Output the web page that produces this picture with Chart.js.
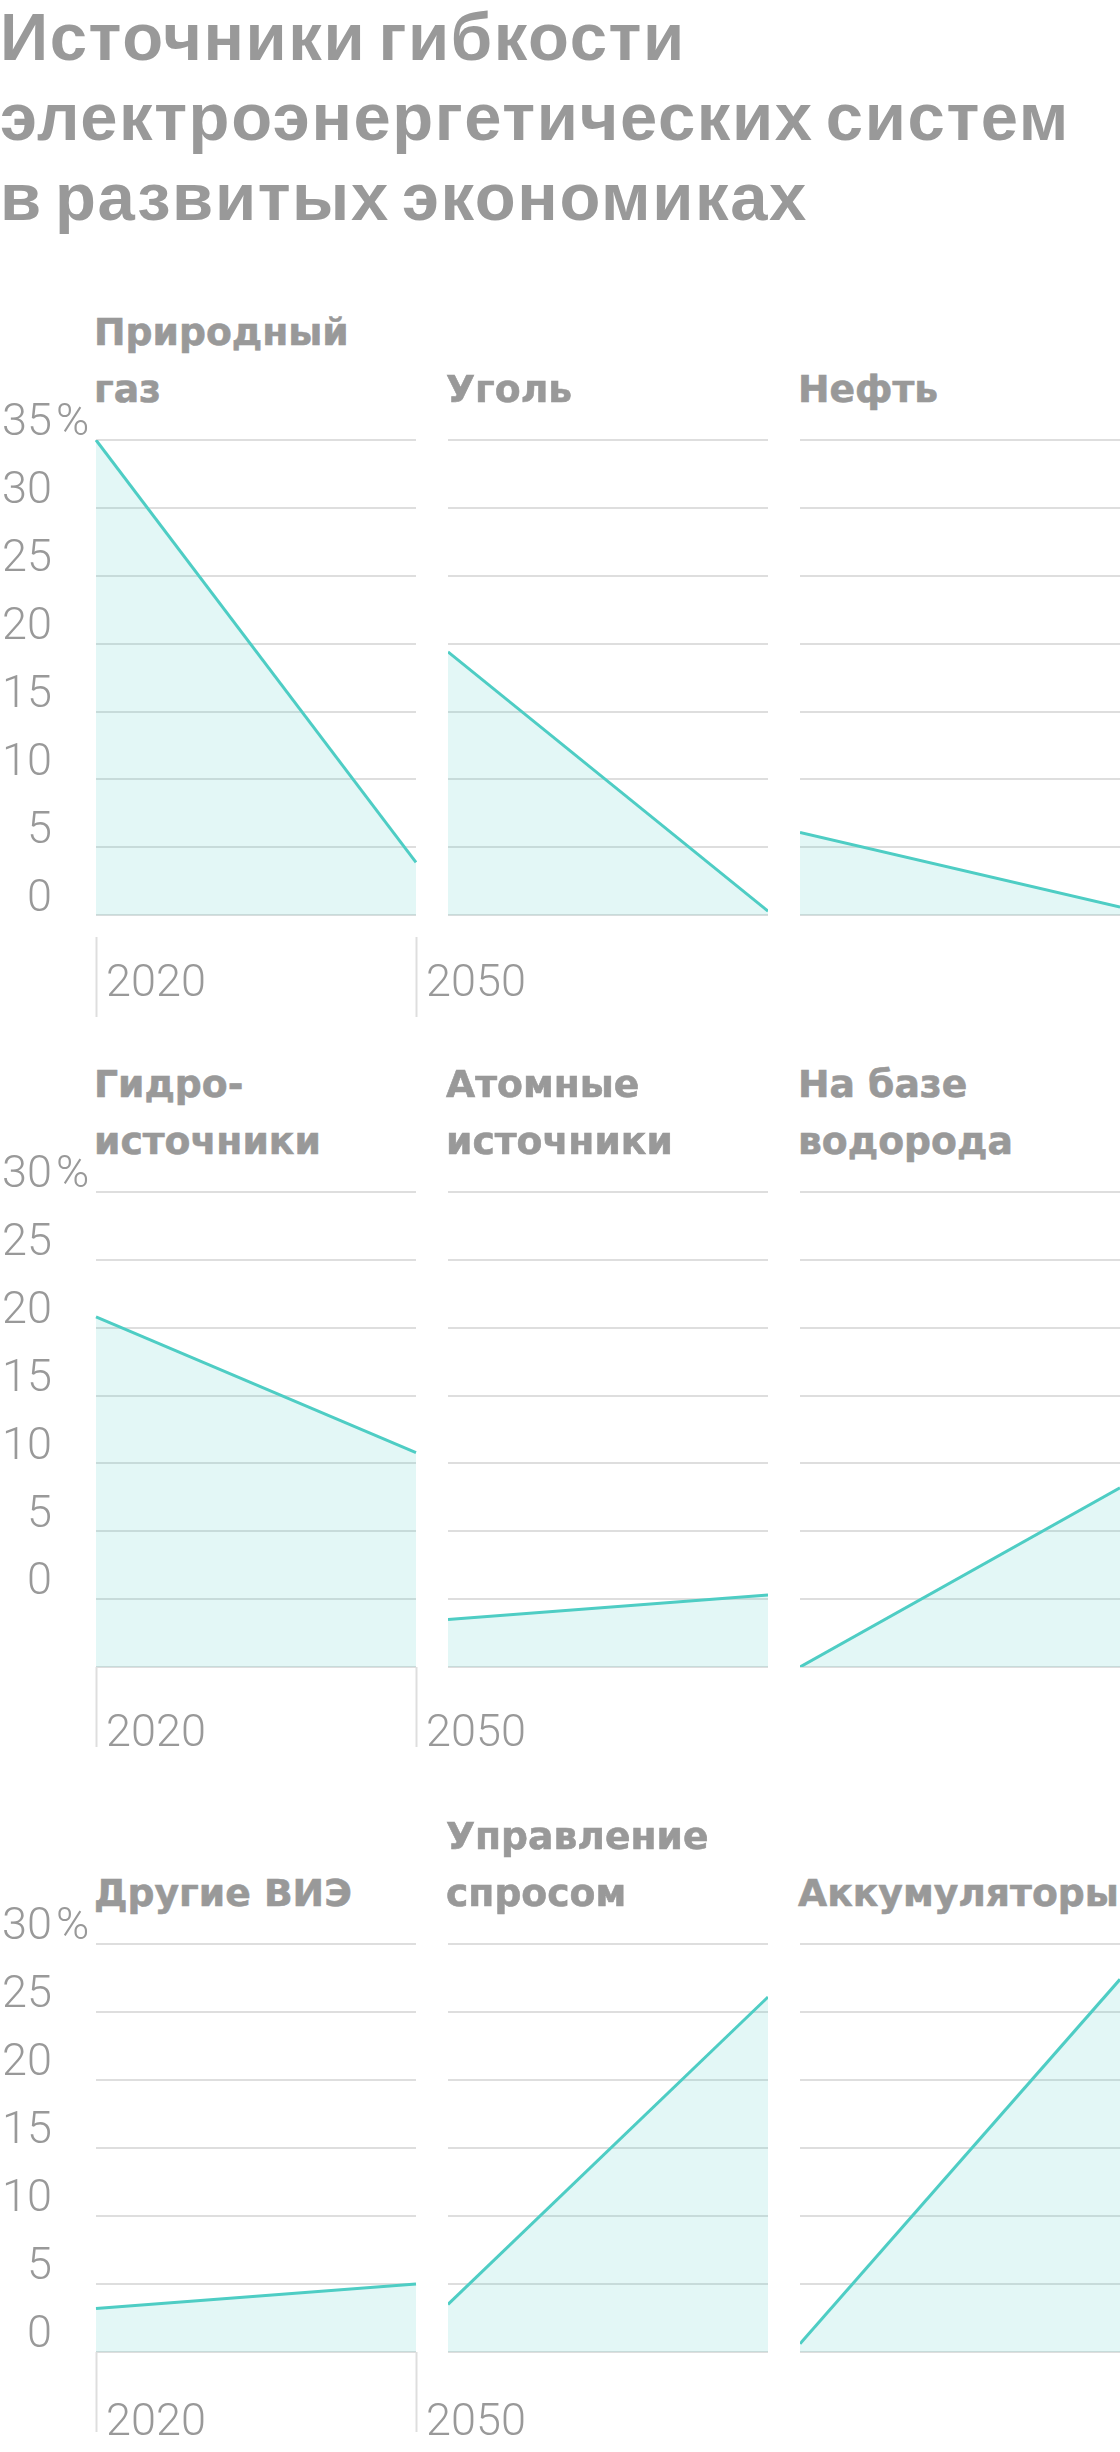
<!DOCTYPE html>
<html lang="ru">
<head>
<meta charset="utf-8">
<script src="https://cdn.jsdelivr.net/npm/chart.js@4.4.1/dist/chart.umd.min.js"></script>
<style>
  html, body { margin: 0; padding: 0; background: #fff; }
  #page { position: relative; width: 1120px; height: 2452px; overflow: hidden; }
  h1 {
    position: absolute; left: 0; top: -3px; margin: 0;
    font: bold 67px 'Liberation Sans', Arial, sans-serif;
    letter-spacing: 1.6px; word-spacing: -8px;
    line-height: 80px; color: #999;
  }
  .ttl {
    position: absolute; height: 114px; display: flex; align-items: flex-end;
    font: bold 37.7px 'DejaVu Sans', sans-serif; line-height: 57px;
    -webkit-text-stroke: 0.6px #999;
    color: #999; white-space: pre-line;
  }
  canvas { position: absolute; }
</style>
</head>
<body>
<div id="page">
  <h1>Источники гибкости<br>электроэнергетических систем<br>в развитых экономиках</h1>
</div>
<script>
// ---- data ----
const years = ['2020', '2050'];
const titles = [
  'Природный\nгаз', 'Уголь', 'Нефть',
  'Гидро-\nисточники', 'Атомные\nисточники', 'На базе\nводорода',
  'Другие ВИЭ', 'Управление\nспросом', 'Аккумуляторы'
];
const values2020 = [35, 19.4, 6.1, 20.8, -1.5, -5, 3.2, 3.5, 0.6];
const values2050 = [3.9, 0.3, 0.6, 10.8, 0.3, 8.2, 5.0, 26.1, 27.4];
const row1Ticks = [0, 5, 10, 15, 20, 25, 30, 35];
const row2Ticks = [-5, 0, 5, 10, 15, 20, 25, 30];
const row3Ticks = [0, 5, 10, 15, 20, 25, 30];

// ---- layout ----
const colLeft = [96, 448, 800];
const plotW = 320;
const rows = [
  { top: 440, bottom: 937, min: -1.6, max: 35, base: 0, ticks: row1Ticks, titleBottom: 418, labelPad: -59 },
  { top: 1192, bottom: 1667, min: -5, max: 30, base: -5, ticks: row2Ticks, titleBottom: 1170, labelPad: -39 },
  { top: 1944, bottom: 2352, min: 0, max: 30, base: 0, ticks: row3Ticks, titleBottom: 1922, labelPad: -35 }
];

const GRAY = '#999';
const GRID = '#dedede';
const LINE = '#4ecdc4';
const FILL = 'rgba(78, 205, 196, 0.16)';
const axisFont = { family: 'Roboto, Lato, sans-serif', size: 45, weight: '300' };
const yLabelPad = 44;

// "%" sign next to the top tick of the first column
const percentSign = {
  id: 'percentSign',
  afterDraw(chart, args, opts) {
    if (!opts.show) return;
    const y = chart.scales.y;
    const top = y.ticks[y.ticks.length - 1].value;
    const ctx = chart.ctx;
    ctx.save();
    ctx.font = '300 45px Roboto, Lato, sans-serif';
    ctx.fillStyle = GRAY;
    ctx.textBaseline = 'middle';
    ctx.textAlign = 'left';
    ctx.fillText('%', y.right - yLabelPad + 4, y.getPixelForValue(top) - 16);
    ctx.restore();
  }
};

const page = document.getElementById('page');

titles.forEach((title, i) => {
  const r = Math.floor(i / 3);
  const c = i % 3;
  const row = rows[r];
  const first = c === 0;

  // panel title
  const t = document.createElement('div');
  t.className = 'ttl';
  t.textContent = title;
  t.style.left = (colLeft[c] - 2) + 'px';
  t.style.top = (row.titleBottom - 114) + 'px';
  page.appendChild(t);

  // canvas
  const padTop = 80;
  const xAxisH = first ? 100 : 0;
  const padBottom = first ? 0 : 10;
  const cvLeft = first ? 0 : colLeft[c];
  const cvW = first ? 560 : plotW;
  const cvH = padTop + (row.bottom - row.top) + xAxisH + padBottom;

  const canvas = document.createElement('canvas');
  canvas.width = cvW;
  canvas.height = cvH;
  canvas.style.left = cvLeft + 'px';
  canvas.style.top = (row.top - padTop) + 'px';
  page.appendChild(canvas);

  new Chart(canvas, {
    type: 'line',
    data: {
      labels: years,
      datasets: [{
        data: [values2020[i], values2050[i]],
        borderColor: LINE,
        borderWidth: 3,
        backgroundColor: FILL,
        fill: { value: row.base },
        pointRadius: 0,
        tension: 0
      }]
    },
    options: {
      responsive: false,
      animation: false,
      events: [],
      layout: {
        padding: { top: padTop, bottom: padBottom, left: 0, right: first ? 560 - 96 - plotW : 0 }
      },
      plugins: {
        legend: { display: false },
        tooltip: { enabled: false },
        percentSign: { show: first }
      },
      scales: {
        x: {
          display: first,
          offset: false,
          border: { display: false },
          grid: {
            drawOnChartArea: false,
            drawTicks: true,
            tickLength: 80,
            color: GRID,
            tickColor: GRID,
            tickWidth: 2
          },
          ticks: {
            align: 'start',
            labelOffset: 10,
            padding: row.labelPad,
            maxRotation: 0,
            minRotation: 0,
            autoSkip: false,
            font: axisFont,
            color: GRAY
          },
          afterFit: s => { s.height = xAxisH; }
        },
        y: {
          min: row.min,
          max: row.max,
          border: { display: false },
          grid: { color: GRID, lineWidth: 2, drawTicks: false },
          afterBuildTicks: s => { s.ticks = row.ticks.map(v => ({ value: v })); },
          ticks: {
            display: first,
            padding: yLabelPad,
            labelOffset: -16,
            font: axisFont,
            color: GRAY,
            callback: v => (v < 0 ? '' : String(v))
          },
          afterFit: s => { s.width = first ? colLeft[0] : 0; }
        }
      }
    },
    plugins: [percentSign]
  });
});
</script>
</body>
</html>
